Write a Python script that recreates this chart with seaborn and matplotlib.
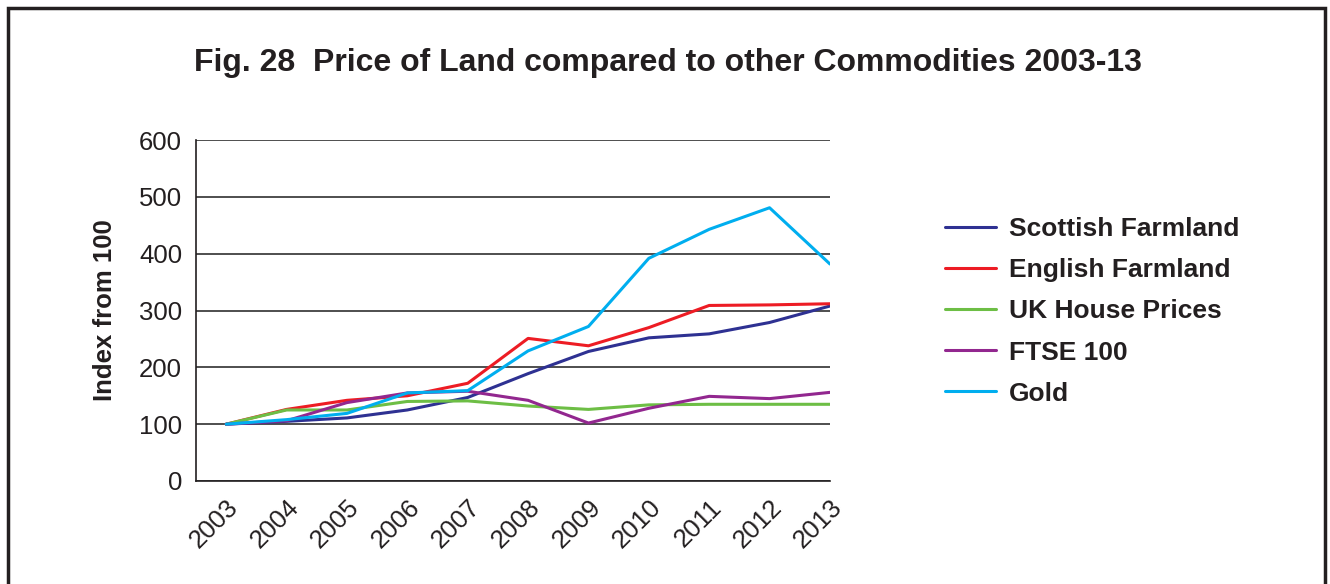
import pandas as pd
import matplotlib.pyplot as plt
import seaborn as sns
from matplotlib.patches import Rectangle

# Datos (indice, 2003 = 100)
years = [2003, 2004, 2005, 2006, 2007, 2008, 2009, 2010, 2011, 2012, 2013]
scottish = [100, 105, 111, 125, 147, 189, 228, 252, 259, 279, 308]
english = [100, 126, 142, 150, 172, 251, 238, 270, 309, 310, 312]
house = [100, 125, 125, 140, 141, 132, 126, 134, 135, 135, 135]
ftse = [100, 106, 138, 155, 158, 142, 102, 128, 149, 145, 156]
gold = [100, 108, 119, 155, 159, 229, 272, 392, 443, 481, 382]

series = ['Scottish Farmland', 'English Farmland', 'UK House Prices', 'FTSE 100', 'Gold']
colors = ['#2E3192', '#ED1C24', '#6DBE45', '#92278F', '#00AEEF']

df = pd.DataFrame({'year': years, series[0]: scottish, series[1]: english,
                   series[2]: house, series[3]: ftse, series[4]: gold})
df = df.melt(id_vars='year', var_name='serie', value_name='indice')

sns.set_style('white')
plt.rcParams['font.family'] = ['Liberation Sans', 'DejaVu Sans']

fig = plt.figure(figsize=(13.3, 5.84), dpi=100)
ax = fig.add_axes([0.1474, 0.1764, 0.4766, 0.5836])

sns.lineplot(data=df, x='year', y='indice', hue='serie', hue_order=series,
             palette=colors, linewidth=2.2, ax=ax, legend=False)

ax.set_xlim(2002.5, 2013)
ax.set_ylim(0, 600)
ax.set_yticks(range(0, 601, 100))
ax.set_xticks(years)
ax.set_xticklabels([str(y) for y in years], rotation=45, ha='right',
                   rotation_mode='anchor', fontsize=18.5, color='#231F20')
ax.tick_params(axis='y', labelsize=18.5, labelcolor='#231F20')
ax.yaxis.grid(True, color='#404040', linewidth=1.3)
ax.set_axisbelow(True)
for s in ['top', 'right']:
    ax.spines[s].set_visible(False)
for s in ['left', 'bottom']:
    ax.spines[s].set_color('#231F20')
    ax.spines[s].set_linewidth(1.2)
ax.tick_params(axis='both', direction='out', length=6, width=1, color='#231F20', pad=4)
ax.set_xlabel('')
ax.set_ylabel('Index from 100', fontsize=18.5, fontweight='bold', color='#231F20', labelpad=16)

handles = [plt.Line2D([], [], color=c, linewidth=2.2) for c in colors]
fig.legend(handles, series, loc='upper left', bbox_to_anchor=(0.693, 0.669),
           frameon=False, handlelength=1.9, handletextpad=0.5, labelspacing=0.65,
           prop={'size': 19, 'weight': 'bold'}, labelcolor='#231F20')

fig.suptitle('Fig. 28  Price of Land compared to other Commodities 2003-13',
             x=0.502, y=0.918, fontsize=23, fontweight='bold', color='#231F20')

# marco exterior
fig.patches.append(Rectangle((0.006, -0.01), 0.99, 0.997, transform=fig.transFigure,
                             fill=False, edgecolor='#231F20', linewidth=2.5))

fig.savefig('out.png', dpi=100)
